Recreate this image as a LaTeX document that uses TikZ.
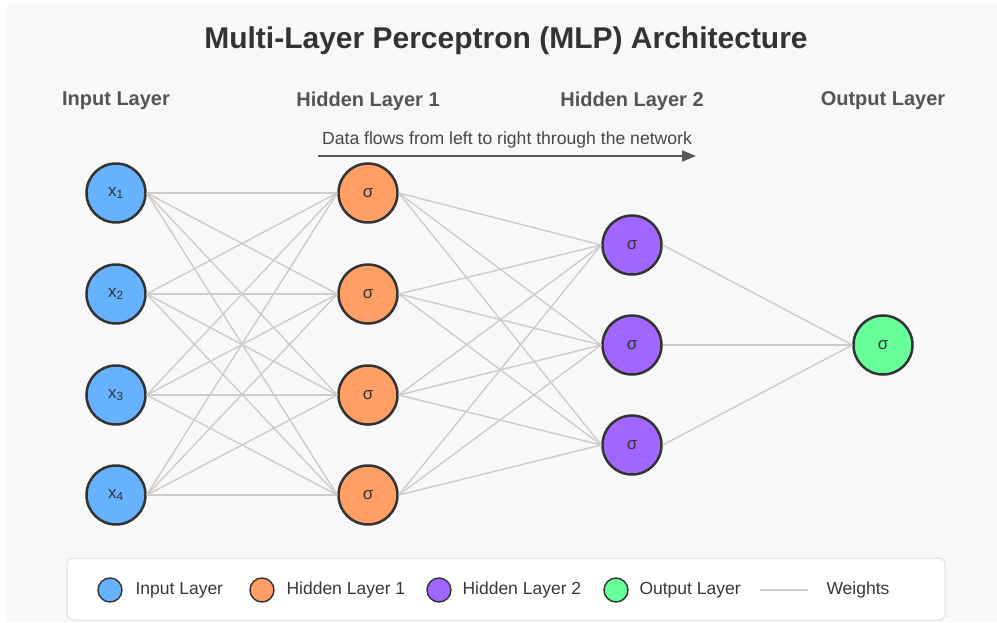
\documentclass[tikz,border=0pt]{standalone}
\usepackage{fontspec}
\setmainfont{Liberation Sans}
\usetikzlibrary{arrows.meta}
\definecolor{inputblue}{HTML}{66B2FF}
\definecolor{hidorange}{HTML}{FF9F66}
\definecolor{hidpurple}{HTML}{A066FF}
\definecolor{outgreen}{HTML}{66FF99}
\definecolor{bggray}{HTML}{F8F8F8}
\definecolor{edgegray}{HTML}{CCCCCC}
\definecolor{ringgray}{HTML}{333333}

\begin{document}
\begin{tikzpicture}[x=1pt, y=-1pt,
  neuron/.style={circle, draw=ringgray, line width=2.5pt, minimum size=59pt, inner sep=0pt, text=ringgray, font=\fontsize{17}{17}\selectfont},
  dot/.style={circle, draw=ringgray, line width=1.4pt, minimum size=24pt, inner sep=0pt},
  input/.style={fill=inputblue},
  hidden/.style={fill=hidorange},
  hiddentwo/.style={fill=hidpurple},
  output/.style={fill=outgreen},
  weight/.style={draw=edgegray, line width=1.4pt},
  head/.style={font=\fontsize{20}{20}\selectfont\bfseries, text=black!67},
  ltext/.style={anchor=west, font=\fontsize{17.5}{17.5}\selectfont, text=black!78},
]
\useasboundingbox (0,0) rectangle (997,622);
\fill[bggray] (7,4) rectangle (997,622);

\node[font=\fontsize{30}{30}\selectfont\bfseries, text=black!80] (title) at (506,41) {Multi-Layer Perceptron (MLP) Architecture};

\node[head] (hin)  at (116,101) {Input Layer};
\node[head] (hh1)  at (368,101) {Hidden Layer 1};
\node[head] (hh2)  at (632,101) {Hidden Layer 2};
\node[head] (hout) at (883,101) {Output Layer};

\coordinate (flowA) at (318,156);
\coordinate (flowB) at (696,156);
\draw[-{Triangle[length=14pt, width=11pt]}, draw=black!65, fill=black!65, line width=2pt] (flowA) -- node[above=4pt, font=\fontsize{17.6}{17.6}\selectfont, text=black!72] {Data flows from left to right through the network} (flowB);

% neurons
\node[neuron, input] (i1) at (116,193) {x\textsubscript{1}};
\node[neuron, input] (i2) at (116,294) {x\textsubscript{2}};
\node[neuron, input] (i3) at (116,395) {x\textsubscript{3}};
\node[neuron, input] (i4) at (116,495) {x\textsubscript{4}};
\node[neuron, hidden] (h1) at (368,193) {σ};
\node[neuron, hidden] (h2) at (368,294) {σ};
\node[neuron, hidden] (h3) at (368,395) {σ};
\node[neuron, hidden] (h4) at (368,495) {σ};
\node[neuron, hiddentwo] (g1) at (632,245) {σ};
\node[neuron, hiddentwo] (g2) at (632,345) {σ};
\node[neuron, hiddentwo] (g3) at (632,445) {σ};
\node[neuron, output] (o1) at (883,345) {σ};

% weights
\foreach \a in {1,...,4}
  \foreach \b in {1,...,4}
    \draw[weight] (i\a.east) -- (h\b.west);
\foreach \a in {1,...,4}
  \foreach \b in {1,2,3}
    \draw[weight] (h\a.east) -- (g\b.west);
\foreach \a in {1,2,3}
  \draw[weight] (g\a.east) -- (o1.west);

% legend
\node[draw=black!12, fill=white, rounded corners=6pt, line width=1pt, minimum width=878pt, minimum height=62pt, inner sep=0pt] (legend) at (506,589) {};
\node[dot, input] (dinput) at (110,590) {};
\node[ltext] (tinput) at (132,590) {Input Layer};
\node[dot, hidden] (dhid) at (262,590) {};
\node[ltext] (thid) at (283,590) {Hidden Layer 1};
\node[dot, hiddentwo] (dhidtwo) at (439,590) {};
\node[ltext] (thidtwo) at (459,590) {Hidden Layer 2};
\node[dot, output] (doutput) at (616,590) {};
\node[ltext] (toutput) at (636,590) {Output Layer};
\coordinate (wa) at (760,590);
\coordinate (wb) at (808,590);
\draw[weight] (wa) -- (wb);
\node[ltext] (tweight) at (823,590) {Weights};
\end{tikzpicture}
\end{document}
